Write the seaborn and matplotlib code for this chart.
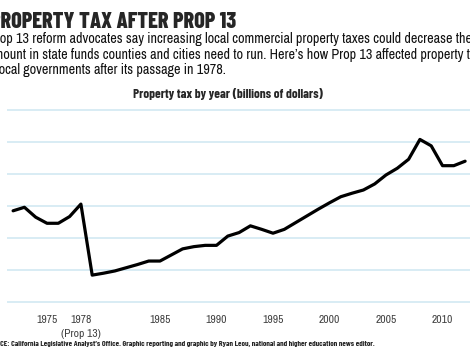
import numpy as np
import pandas as pd
import matplotlib.pyplot as plt
import seaborn as sns

# property tax by year, billions of dollars
years = list(range(1972, 2013))
tax = [38.5, 39.6, 36.5, 34.6, 34.6, 36.7, 40.6,
       18.4, 19.0, 19.7, 20.7, 21.7, 22.8, 22.8,
       24.7, 26.6, 27.3, 27.7, 27.7,
       30.6, 31.7, 33.8, 32.7, 31.5,
       32.7, 34.8, 36.9, 39.0, 41.0,
       42.9, 44.0, 45.0, 46.9, 49.7,
       51.8, 54.6, 60.8, 58.8, 52.6,
       52.6, 54.0]

tick_years = [1975, 1978, 1985, 1990, 1995, 2000, 2005, 2010]
tick_labels = ['1975', '1978\n(Prop 13)', '1985', '1990', '1995', '2000', '2005', '2010']
grid_values = [10, 20, 30, 40, 50, 60, 70]

sns.set_style('white')
narrow = ['Archivo Narrow', 'Barlow Condensed', 'DejaVu Sans']
cond = ['Barlow Condensed', 'Archivo Narrow', 'DejaVu Sans']
plt.rcParams['font.family'] = narrow

W, H = 470, 360
fig = plt.figure(figsize=(W / 100, H / 100), dpi=100)
ax = fig.add_axes([7 / W, (H - 308.4) / H, 491 / W, 204.8 / H])

df = pd.DataFrame({'year': years, 'tax': tax})
sns.lineplot(data=df, x='year', y='tax', color='black', linewidth=2.3, ax=ax)

ax.set_xlim(1971.46, 2014.91)
ax.set_ylim(8, 72)
ax.set_yticks(grid_values)
ax.yaxis.grid(True, color='#d5ebf3', linewidth=1.3)
ax.set_axisbelow(True)
ax.tick_params(axis='y', left=False, labelleft=False)
ax.set_xticks(tick_years)
ax.set_xticklabels(tick_labels, fontsize=8.3, color='#404040', linespacing=1.45)
ax.tick_params(axis='x', length=0, pad=5)
ax.set_xlabel('')
ax.set_ylabel('')
for s in ax.spines.values():
    s.set_visible(False)

def px(x, y):
    return x / W, 1 - y / H

fig.text(*px(-10, 27.5), 'PROPERTY TAX AFTER PROP 13', fontsize=16, weight=800,
         va='baseline', family=cond)
body = ['Prop 13 reform advocates say increasing local commercial property taxes could decrease the',
        'amount in state funds counties and cities need to run. Here\u2019s how Prop 13 affected property taxes for',
        'local governments after its passage in 1978.']
body_x = [-12, -13, -4]
for i, line in enumerate(body):
    fig.text(*px(body_x[i], 43.3 + 15.3 * i), line, fontsize=10.2, va='baseline', color='#111111')
fig.text(*px(228, 98), 'Property tax by year (billions of dollars)', fontsize=9.5, weight='bold',
         ha='center', va='baseline', family=cond)
fig.text(*px(-15, 346), 'SOURCE: California Legislative Analyst\u2019s Office. Graphic reporting and graphic by Ryan Leou, '
         'national and higher education news editor.', fontsize=5.75, weight='bold', va='baseline', family=cond)

plt.savefig('out.png', dpi=100)
